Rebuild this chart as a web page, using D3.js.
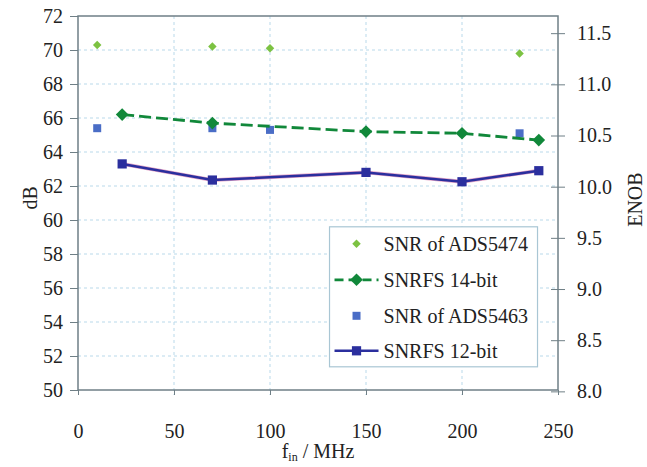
<!DOCTYPE html>
<html>
<head>
<meta charset="utf-8">
<script src="https://cdn.jsdelivr.net/npm/d3@7"></script>
<style>
  body { margin: 0; background: #fff; }
  svg text { font-family: "Liberation Serif", "Times New Roman", "DejaVu Serif", serif; fill: #222; }
  .grid line { stroke: #b9d9ea; stroke-dasharray: 3,3; stroke-width: 1; }
</style>
</head>
<body>
<script>
// values
const snr5474X = [10, 70, 100, 230]
const snr5474Y = [70.3, 70.2, 70.1, 69.8]

const snrfs14X = [23, 70, 150, 200, 240]
const snrfs14Y = [66.2, 65.7, 65.2, 65.1, 64.7]

const snr5463X = [10, 70, 100, 230]
const snr5463Y = [65.4, 65.4, 65.3, 65.1]

const snrfs12X = [23, 70, 150, 200, 240]
const snrfs12Y = [63.3, 62.35, 62.8, 62.25, 62.9]

const xTicks = [0, 50, 100, 150, 200, 250]
const dbTicks = [50, 52, 54, 56, 58, 60, 62, 64, 66, 68, 70, 72]
const enobTicks = [8.0, 8.5, 9.0, 9.5, 10.0, 10.5, 11.0, 11.5]

const legendNames = ['SNR of ADS5474', 'SNRFS 14-bit', 'SNR of ADS5463', 'SNRFS 12-bit']

const width = 647, height = 467
const margin = {top: 16, right: 89, bottom: 77, left: 78}
const w = width - margin.left - margin.right
const h = height - margin.top - margin.bottom
const font = '"Liberation Serif", "Times New Roman", "DejaVu Serif", serif'
const fs = 20

const x = d3.scaleLinear().domain([0, 250]).range([0, w])
const y = d3.scaleLinear().domain([50, 72]).range([h, 0])
// ENOB = (SNR - 1.76) / 6.02
const yEnob = d3.scaleLinear()
    .domain([(50 - 1.76) / 6.02, (72 - 1.76) / 6.02])
    .range([h, 0])

const svg = d3.select('body').append('svg')
    .attr('width', width)
    .attr('height', height)
    .attr('font-family', font)
  .append('g')
    .attr('transform', 'translate(' + margin.left + ',' + margin.top + ')')

// grid
svg.append('g').attr('class', 'grid')
  .selectAll('line').data(dbTicks.slice(1, -1)).enter().append('line')
    .attr('x1', 0).attr('x2', w)
    .attr('y1', d => y(d)).attr('y2', d => y(d))
svg.append('g').attr('class', 'grid')
  .selectAll('line').data(xTicks.slice(1, -1)).enter().append('line')
    .attr('y1', 0).attr('y2', h + 5)
    .attr('x1', d => x(d)).attr('x2', d => x(d))

// axes
const axisColor = '#6f7f86'
const styleAxis = g => {
  g.attr('font-family', font).attr('font-size', fs)
  g.select('.domain').remove()
  g.selectAll('line').attr('stroke', axisColor)
  g.selectAll('text').attr('fill', '#222')
}

svg.append('g')
    .call(d3.axisLeft(y).tickValues(dbTicks).tickSize(8).tickPadding(7))
    .call(styleAxis)

svg.append('g')
    .attr('transform', 'translate(0,' + h + ')')
    .call(d3.axisBottom(x).tickValues(xTicks).tickSize(5).tickPadding(29))
    .call(styleAxis)

const right = svg.append('g')
    .attr('transform', 'translate(' + w + ',0)')
    .call(d3.axisRight(yEnob).tickValues(enobTicks).tickFormat(d3.format('.1f')).tickSize(7).tickPadding(12))
    .call(styleAxis)
right.selectAll('.tick line').attr('x1', -7)

// frame
svg.append('rect')
    .attr('width', w).attr('height', h)
    .attr('fill', 'none')
    .attr('stroke', axisColor)
    .attr('stroke-width', 1.5)

// axis titles
svg.append('text')
    .attr('transform', 'translate(' + (-48) + ',' + y(61.3) + ') rotate(-90)')
    .attr('text-anchor', 'middle')
    .attr('dy', '0.35em')
    .attr('font-size', fs)
    .text('dB')

svg.append('text')
    .attr('transform', 'translate(' + (w + 77) + ',' + y(61.2) + ') rotate(-90)')
    .attr('text-anchor', 'middle')
    .attr('dy', '0.35em')
    .attr('font-size', fs)
    .text('ENOB')

const xt = svg.append('text')
    .attr('x', x(125))
    .attr('y', h + 68)
    .attr('text-anchor', 'middle')
    .attr('font-size', fs)
xt.append('tspan').text('f')
xt.append('tspan').attr('dy', 3).attr('font-size', 12).text('in')
xt.append('tspan').attr('dy', -3).text(' / MHz')

// colours
const lightGreen = '#7cc242'
const darkGreen = '#11883a'
const lightBlue = '#4a6dc6'
const darkBlue = '#2b2f9e'

const square = d3.symbol().type(d3.symbolSquare)

const zip = (xs, ys) => xs.map((v, i) => ({x: v, y: ys[i]}))

const line = d3.line()
    .x(d => x(d.x))
    .y(d => y(d.y))

// SNRFS 12-bit
svg.append('path')
    .datum(zip(snrfs12X, snrfs12Y))
    .attr('fill', 'none')
    .attr('stroke', '#e7a8c8')
    .attr('stroke-width', 3.8)
    .attr('d', line)
svg.append('path')
    .datum(zip(snrfs12X, snrfs12Y))
    .attr('fill', 'none')
    .attr('stroke', darkBlue)
    .attr('stroke-width', 2.5)
    .attr('d', line)
svg.append('g').selectAll('path')
    .data(zip(snrfs12X, snrfs12Y)).enter().append('path')
    .attr('transform', d => 'translate(' + x(d.x) + ',' + y(d.y) + ')')
    .attr('d', square.size(85))
    .attr('fill', darkBlue)

// SNR of ADS5463
svg.append('g').selectAll('path')
    .data(zip(snr5463X, snr5463Y)).enter().append('path')
    .attr('transform', d => 'translate(' + x(d.x) + ',' + y(d.y) + ')')
    .attr('d', square.size(64))
    .attr('fill', lightBlue)

// SNRFS 14-bit
svg.append('path')
    .datum(zip(snrfs14X, snrfs14Y))
    .attr('fill', 'none')
    .attr('stroke', darkGreen)
    .attr('stroke-width', 2.8)
    .attr('stroke-dasharray', '12,5')
    .attr('d', line)
svg.append('g').selectAll('path')
    .data(zip(snrfs14X, snrfs14Y)).enter().append('path')
    .attr('transform', d => 'translate(' + x(d.x) + ',' + y(d.y) + ') rotate(45)')
    .attr('d', square.size(80))
    .attr('fill', darkGreen)

// SNR of ADS5474
svg.append('g').selectAll('path')
    .data(zip(snr5474X, snr5474Y)).enter().append('path')
    .attr('transform', d => 'translate(' + x(d.x) + ',' + y(d.y) + ') rotate(45)')
    .attr('d', square.size(36))
    .attr('fill', lightGreen)

// legend
const lg = svg.append('g')
    .attr('transform', 'translate(' + (x(131) ) + ',' + y(59.6) + ')')
lg.append('rect')
    .attr('width', 208).attr('height', 140)
    .attr('fill', '#fff')
    .attr('stroke', '#a9c6d4')
    .attr('stroke-width', 1.2)

const rowY = [17, 53, 89, 124]
const items = lg.selectAll('.legend-item')
    .data(legendNames).enter().append('g')
    .attr('class', 'legend-item')
    .attr('transform', (_, i) => 'translate(0,' + rowY[i] + ')')

items.filter((_, i) => i === 1).append('line')
    .attr('x1', 5).attr('x2', 49)
    .attr('stroke', darkGreen).attr('stroke-width', 2.8)
    .attr('stroke-dasharray', '9,5')
items.filter((_, i) => i === 3).append('line')
    .attr('x1', 5).attr('x2', 49)
    .attr('stroke', darkBlue).attr('stroke-width', 2.5)

items.append('path')
    .attr('transform', (_, i) => 'translate(27,0)' + (i < 2 ? ' rotate(45)' : ''))
    .attr('d', (_, i) => [square.size(36)(), square.size(80)(), square.size(64)(), square.size(85)()][i])
    .attr('fill', (_, i) => [lightGreen, darkGreen, lightBlue, darkBlue][i])

items.append('text')
    .attr('x', 54)
    .attr('dy', '0.35em')
    .attr('font-size', fs)
    .text(d => d)
</script>
</body>
</html>
